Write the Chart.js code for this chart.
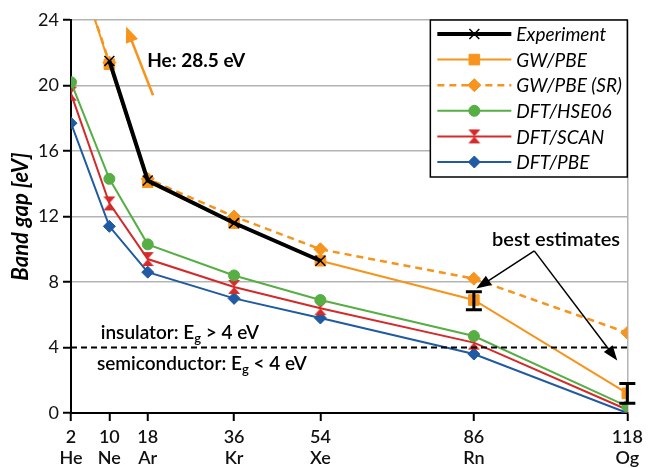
<!DOCTYPE html>
<html>
<head>
<meta charset="utf-8">
<script src="https://cdn.jsdelivr.net/npm/chart.js@4.4.1/dist/chart.umd.min.js"></script>
<style>
    html, body { margin: 0; padding: 0; background: #fff; }
    #wrap { width: 649px; height: 468px; position: relative; }
</style>
</head>
<body>
<div id="wrap"><canvas id="gapChart" width="649" height="468"></canvas></div>
<script>
// atomic numbers and element symbols along the x axis
const atomicNumbers = [2, 10, 18, 36, 54, 86, 118];
const elements = ['He', 'Ne', 'Ar', 'Kr', 'Xe', 'Rn', 'Og'];

// band gaps in eV (null = not shown)
const experiment = [null, 21.5, 14.2, 11.6, 9.3, null, null];
const gwPbe      = [28.5, 21.3, 14.1, 11.6, 9.3, 6.9, 1.2];
const gwPbeSR    = [28.5, 21.4, 14.3, 12.0, 10.0, 8.2, 4.9];
const hse06      = [20.2, 14.3, 10.3, 8.4, 6.9, 4.7, 0.4];
const scan       = [19.5, 12.8, 9.4, 7.7, 6.4, 4.3, 0.2];
const pbe        = [17.7, 11.4, 8.6, 7.0, 5.8, 3.6, 0.0];

// best estimates (error bars)
const bestZ    = [86, 118];
const bestLow  = [6.3, 0.6];
const bestHigh = [7.4, 1.8];

const yTicks = [0, 4, 8, 12, 16, 20, 24];
const threshold = 4;

const ORANGE = '#F7941D';
const GREEN = '#56AE44';
const RED = '#D42A2A';
const BLUE = '#1F5AA3';
const FONT = 'Lato, "Open Sans", sans-serif';

function pairs(vals) {
    return atomicNumbers.map((z, i) => ({ x: z, y: vals[i] }));
}

// hourglass marker for SCAN
function hourglass(color) {
    const c = document.createElement('canvas');
    c.width = 14; c.height = 16;
    const g = c.getContext('2d');
    g.fillStyle = color;
    g.beginPath();
    g.moveTo(1, 1); g.lineTo(13, 1); g.lineTo(7, 8); g.closePath();
    g.moveTo(1, 15); g.lineTo(13, 15); g.lineTo(7, 8); g.closePath();
    g.fill();
    return c;
}
const scanMarker = hourglass(RED);

function drawMarker(ctx, ds, x, y) {
    ctx.save();
    ctx.fillStyle = ds.pointBackgroundColor;
    ctx.strokeStyle = ds.pointBorderColor;
    ctx.lineWidth = ds.pointBorderWidth;
    ctx.setLineDash([]);
    Chart.helpers.drawPoint(ctx, {
        pointStyle: ds.pointStyle,
        radius: ds.pointRadius,
        borderWidth: ds.pointBorderWidth,
        rotation: 0
    }, x, y);
    ctx.restore();
}

function arrow(ctx, x1, y1, x2, y2, color, w, head, headW) {
    const ang = Math.atan2(y2 - y1, x2 - x1);
    ctx.save();
    ctx.strokeStyle = color;
    ctx.fillStyle = color;
    ctx.lineWidth = w;
    ctx.beginPath();
    ctx.moveTo(x1, y1);
    ctx.lineTo(x2 - Math.cos(ang) * head * 0.8, y2 - Math.sin(ang) * head * 0.8);
    ctx.stroke();
    ctx.beginPath();
    ctx.moveTo(x2, y2);
    ctx.lineTo(x2 - Math.cos(ang) * head + Math.sin(ang) * headW / 2, y2 - Math.sin(ang) * head - Math.cos(ang) * headW / 2);
    ctx.lineTo(x2 - Math.cos(ang) * head - Math.sin(ang) * headW / 2, y2 - Math.sin(ang) * head + Math.cos(ang) * headW / 2);
    ctx.closePath();
    ctx.fill();
    ctx.restore();
}

// text with a subscript "g" after E
function subText(ctx, parts, x, y) {
    let cx = x;
    parts.forEach(p => {
        ctx.font = p.sub ? `600 13px ${FONT}` : `600 19px ${FONT}`;
        ctx.fillText(p.t, cx, p.sub ? y + 6 : y);
        cx += ctx.measureText(p.t).width;
    });
}

const extras = {
    id: 'extras',
    afterDatasetsDraw(chart) {
        const { ctx, chartArea: a, scales: { x, y } } = chart;

        // threshold line
        ctx.save();
        ctx.strokeStyle = '#000';
        ctx.lineWidth = 2;
        ctx.setLineDash([6, 4]);
        ctx.beginPath();
        ctx.moveTo(a.left, y.getPixelForValue(threshold));
        ctx.lineTo(a.right, y.getPixelForValue(threshold));
        ctx.stroke();
        ctx.restore();

        // error bars
        ctx.save();
        ctx.strokeStyle = '#000';
        ctx.lineWidth = 3;
        bestZ.forEach((z, i) => {
            const px = x.getPixelForValue(z);
            const lo = y.getPixelForValue(bestLow[i]);
            const hi = y.getPixelForValue(bestHigh[i]);
            ctx.beginPath();
            ctx.moveTo(px, lo); ctx.lineTo(px, hi);
            ctx.moveTo(px - 8, lo); ctx.lineTo(px + 8, lo);
            ctx.moveTo(px - 8, hi); ctx.lineTo(px + 8, hi);
            ctx.stroke();
        });
        ctx.restore();

        // annotations
        ctx.save();
        ctx.fillStyle = '#000';
        ctx.textBaseline = 'middle';
        ctx.font = `bold 19px ${FONT}`;
        ctx.fillText('He: 28.5 eV', x.getPixelForValue(17.9), y.getPixelForValue(21.5));
        arrow(ctx, x.getPixelForValue(19.1), y.getPixelForValue(19.4),
                   x.getPixelForValue(13.5), y.getPixelForValue(23.6), ORANGE, 2.5, 16, 13);

        subText(ctx, [{ t: 'insulator: E' }, { t: 'g', sub: true }, { t: ' > 4 eV' }],
                x.getPixelForValue(8.2), y.getPixelForValue(4.9));
        subText(ctx, [{ t: 'semiconductor: E' }, { t: 'g', sub: true }, { t: ' < 4 eV' }],
                x.getPixelForValue(7.4), y.getPixelForValue(3.0));

        ctx.font = `600 20px ${FONT}`;
        ctx.fillText('best estimates', x.getPixelForValue(89.8), y.getPixelForValue(10.6));
        const ox = x.getPixelForValue(98.6), oy = y.getPixelForValue(9.9);
        arrow(ctx, ox, oy, x.getPixelForValue(86.5), y.getPixelForValue(7.6), '#000', 1.5, 15, 11);
        arrow(ctx, ox, oy, x.getPixelForValue(115.9), y.getPixelForValue(3.2), '#000', 1.5, 15, 11);
        ctx.restore();

        // legend box
        const bx = a.right - 197, by = a.top, bw = 197, bh = 157;
        ctx.save();
        ctx.fillStyle = '#fff';
        ctx.fillRect(bx, by, bw, bh);
        ctx.strokeStyle = '#000';
        ctx.lineWidth = 1.5;
        ctx.strokeRect(bx, by, bw, bh);
        chart.data.datasets.forEach((ds, i) => {
            const ry = by + 14 + i * 25.6;
            ctx.save();
            ctx.strokeStyle = ds.borderColor;
            ctx.lineWidth = ds.borderWidth;
            ctx.setLineDash(ds.borderDash || []);
            ctx.beginPath();
            ctx.moveTo(bx + 7, ry);
            ctx.lineTo(bx + 81, ry);
            ctx.stroke();
            ctx.restore();
            drawMarker(ctx, ds, bx + 44, ry);
            ctx.fillStyle = '#000';
            ctx.font = `italic 19px ${FONT}`;
            ctx.textBaseline = 'middle';
            ctx.fillText(ds.label, bx + 86, ry + 1);
        });
        ctx.restore();
    }
};

const common = { showLine: true, fill: false, tension: 0, spanGaps: false, pointBorderWidth: 1 };

new Chart(document.getElementById('gapChart'), {
    type: 'scatter',
    data: {
        datasets: [
            { ...common, label: 'Experiment', data: pairs(experiment), borderColor: '#000', borderWidth: 4,
              pointStyle: 'crossRot', pointRadius: 7, pointBorderColor: '#000', pointBackgroundColor: '#000', pointBorderWidth: 1.5, order: 0 },
            { ...common, label: 'GW/PBE', data: pairs(gwPbe), borderColor: ORANGE, borderWidth: 2,
              pointStyle: 'rect', pointRadius: 7.5, pointBorderColor: ORANGE, pointBackgroundColor: ORANGE, order: 2 },
            { ...common, label: 'GW/PBE (SR)', data: pairs(gwPbeSR), borderColor: ORANGE, borderWidth: 2.5, borderDash: [7, 5],
              pointStyle: 'rectRot', pointRadius: 6.5, pointBorderColor: ORANGE, pointBackgroundColor: ORANGE, order: 1 },
            { ...common, label: 'DFT/HSE06', data: pairs(hse06), borderColor: GREEN, borderWidth: 2,
              pointStyle: 'circle', pointRadius: 5.5, pointBorderColor: GREEN, pointBackgroundColor: GREEN, order: 3 },
            { ...common, label: 'DFT/SCAN', data: pairs(scan), borderColor: RED, borderWidth: 2,
              pointStyle: scanMarker, pointRadius: 7, pointBorderColor: RED, pointBackgroundColor: RED, order: 4 },
            { ...common, label: 'DFT/PBE', data: pairs(pbe), borderColor: BLUE, borderWidth: 2,
              pointStyle: 'rectRot', pointRadius: 6, pointBorderColor: BLUE, pointBackgroundColor: BLUE, order: 5 }
        ]
    },
    options: {
        responsive: false,
        animation: false,
        layout: { padding: { top: 20, right: 16, left: 0, bottom: 0 } },
        plugins: { legend: { display: false }, tooltip: { enabled: false } },
        scales: {
            x: {
                type: 'linear', min: 2, max: 118,
                afterBuildTicks: s => { s.ticks = atomicNumbers.map(v => ({ value: v })); },
                afterFit: s => { s.height = 55; },
                border: { color: '#000', width: 2 },
                grid: {
                    color: c => c.tick && c.tick.value === 118 ? '#b4b4b4' : 'rgba(0,0,0,0)',
                    lineWidth: 1.5, tickColor: '#000', tickWidth: 2, tickLength: 8
                },
                ticks: {
                    autoSkip: false, maxRotation: 0, padding: 6, color: '#111',
                    font: { family: FONT, size: 18, weight: '600', lineHeight: 1.15 },
                    callback: v => [String(v), elements[atomicNumbers.indexOf(v)]]
                }
            },
            y: {
                min: 0, max: 24,
                afterBuildTicks: s => { s.ticks = yTicks.map(v => ({ value: v })); },
                afterFit: s => { s.width = 71; },
                border: { color: '#000', width: 2 },
                grid: {
                    color: c => c.tick && (c.tick.value === 0 || c.tick.value === threshold) ? 'rgba(0,0,0,0)' : '#b4b4b4',
                    lineWidth: 1.5, tickColor: '#000', tickWidth: 2, tickLength: 8
                },
                ticks: { padding: 4, color: '#111', font: { family: FONT, size: 18 } },
                title: {
                    display: true, text: 'Band gap [eV]', color: '#000', padding: { top: 8, bottom: 0 },
                    font: { family: FONT, size: 22, style: 'italic', weight: 'bold' }
                }
            }
        }
    },
    plugins: [extras]
});
</script>
</body>
</html>
